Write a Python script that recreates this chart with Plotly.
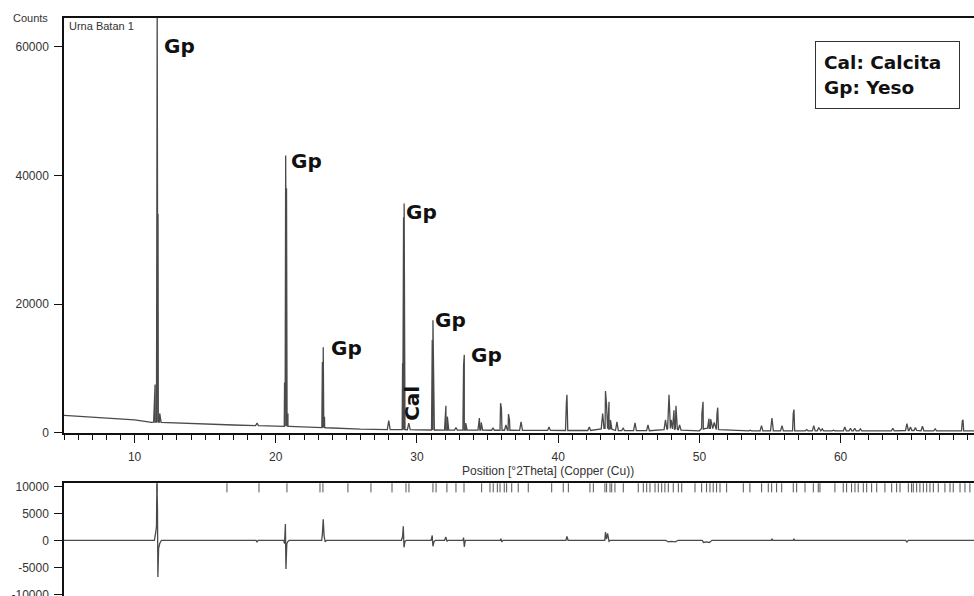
import plotly.graph_objects as go

# ---------------------------------------------------------------------------
# Data (2theta in degrees, intensity in counts)
# ---------------------------------------------------------------------------

# background line (2theta, counts)
bg_pos = [5.0, 8.0, 10.0, 11.2, 14.0, 17.0, 20.0, 23.0, 26.0, 30.0, 40.0, 50.0, 69.5]
bg_counts = [2700, 2350, 2000, 1600, 1400, 1200, 1000, 750, 550, 450, 350, 300, 300]

# peaks: position, apex counts, counts at the foot of the peak
peak_pos = [
    11.45, 11.55, 11.60, 11.66, 11.78, 18.67,
    20.62, 20.70, 20.76, 20.86, 23.30, 23.36, 23.45, 28.00,
    28.98, 29.05, 29.09, 29.42, 31.08, 31.13, 31.22, 32.05, 32.15, 32.76,
    33.30, 33.35, 33.45, 34.42, 34.55, 35.38, 35.92, 35.98, 36.30, 36.48,
    36.55, 37.37, 39.35, 40.58, 40.62, 42.20, 43.15, 43.35, 43.42, 43.60,
    43.70, 44.16, 44.60, 45.44, 46.36, 47.60, 47.85, 48.00, 48.20, 48.34,
    48.60, 50.18, 50.26, 50.68, 50.80, 51.05, 51.25, 51.30, 53.60, 54.40,
    55.14, 55.85, 56.65, 56.70, 57.60, 58.10, 58.45, 58.70, 59.50, 60.30,
    60.70, 61.00, 61.40, 62.10, 62.60, 63.70, 64.70, 64.95, 65.30, 65.80,
    66.70, 67.10, 67.50, 68.62, 68.67,
]
peak_counts = [
    7500, 50400, 66000, 34000, 3000, 1500,
    7800, 43100, 38000, 3000, 11000, 13300, 2500, 1900,
    10800, 33500, 35650, 1500, 14400, 17500, 3500, 4200, 2500, 800,
    10500, 12100, 1500, 2300, 1600, 700, 4600, 3800, 1200, 2900,
    2000, 1700, 900, 4600, 5900, 900, 3000, 6500, 4500, 4800,
    2000, 1700, 700, 1550, 1200, 2000, 5900, 2000, 3500, 4200,
    1200, 3000, 4800, 2200, 2100, 1600, 3000, 3900, 400, 1100,
    2300, 1100, 3000, 3600, 500, 1100, 800, 600, 400, 900,
    700, 700, 600, 400, 400, 700, 1400, 900, 800, 1000,
    600, 400, 400, 1800, 2000,
]
peak_base = [
    1650, 1650, 1650, 1650, 1600, 1100,
    1000, 1000, 1000, 1000, 800, 800, 780, 500,
    480, 480, 480, 470, 430, 430, 430, 420, 420, 410,
    400, 400, 400, 400, 400, 390, 390, 390, 390, 385,
    385, 380, 360, 350, 350, 350, 600, 700, 700, 650,
    550, 350, 340, 330, 320, 500, 650, 650, 600, 550,
    400, 500, 650, 700, 700, 650, 550, 500, 300, 300,
    300, 300, 300, 300, 300, 300, 300, 300, 300, 300,
    300, 300, 300, 300, 300, 300, 350, 350, 350, 300,
    300, 300, 300, 300, 300,
]

# difference plot (observed - calculated)
diff_pos = [
    5.0, 11.40, 11.50, 11.55, 11.58, 11.62, 11.65, 11.70, 11.78, 11.90,
    18.60, 18.67, 18.75, 20.55, 20.62, 20.68, 20.72, 20.78, 20.86, 20.95,
    23.25, 23.30, 23.36, 23.42, 23.50, 23.60, 28.90, 28.98, 29.03, 29.08,
    29.15, 29.25, 31.00, 31.08, 31.13, 31.20, 31.30, 31.95, 32.05, 32.12,
    32.20, 33.25, 33.30, 33.35, 33.42, 35.90, 35.95, 36.00, 36.10, 40.55,
    40.62, 40.70, 43.30, 43.35, 43.42, 43.50, 43.60, 43.70, 47.60, 47.80,
    48.00, 48.30, 48.50, 50.20, 50.30, 50.50, 50.70, 50.90, 55.10, 55.15,
    55.20, 56.65, 56.70, 56.75, 64.60, 64.70, 64.80, 69.50,
]
diff_counts = [
    0, 0, 1500, 2600, 11000, 5800, -6800, -1500, -600, 0,
    0, -300, 0, 0, -600, 3000, -5300, -600, -200, 0,
    0, 1200, 3900, 800, -300, 0, 0, 700, 2600, -1300,
    -200, 0, 0, 900, -1100, -300, 0, 0, 600, -200,
    0, 0, 500, -1200, 0, 0, 300, -300, 0, 0,
    700, 0, 0, 1500, 200, 1300, -200, 0, 0, -300,
    -200, -300, 0, 0, -400, -300, -400, 0, 0, 300,
    0, 0, 300, 0, 0, -300, 0, 0,
]

# reference pattern line positions (2theta)
ref_lines = [
    11.60, 16.54, 18.81, 20.79, 23.13, 23.34, 25.11, 26.74, 28.23, 29.22,
    29.43, 31.13, 31.35, 32.12, 32.76, 33.33, 34.58, 35.17, 35.40, 35.69,
    35.88, 36.18, 36.35, 36.71, 37.17, 37.88, 39.54, 40.36, 40.72, 42.25,
    42.49, 43.31, 43.43, 43.67, 43.79, 44.02, 44.61, 45.67, 46.03, 46.27,
    46.50, 46.86, 47.09, 47.33, 47.56, 47.80, 48.15, 48.51, 48.75, 49.69,
    50.16, 50.51, 50.75, 50.98, 51.22, 51.46, 51.93, 53.11, 53.58, 54.41,
    54.88, 55.12, 55.47, 55.83, 56.65, 56.89, 57.48, 58.07, 58.42, 58.54,
    59.60, 60.19, 60.43, 60.78, 61.02, 61.25, 61.61, 61.85, 62.20, 62.56,
    63.14, 63.62, 63.97, 64.21, 64.80, 65.03, 65.15, 65.39, 65.62, 65.86,
    66.10, 66.33, 66.57, 66.92, 67.39, 67.75, 67.98, 68.46, 68.81, 69.16,
]

# tick labels
top_ticks = [0, 20000, 40000, 60000]
bottom_ticks = [-10000, -5000, 0, 5000, 10000]

# ---------------------------------------------------------------------------
# Assemble the measured profile: background vertices + peak triangles
# ---------------------------------------------------------------------------
FOOT = 0.1  # half width of a peak foot, degrees
vertices = list(zip(bg_pos, bg_counts))
for p, c, b in zip(peak_pos, peak_counts, peak_base):
    vertices += [(p - FOOT, b), (p, c), (p + FOOT, b)]
vertices.sort(key=lambda v: v[0])
prof_x = [v[0] for v in vertices]
prof_y = [v[1] for v in vertices]

LINE = "#4a4a4a"
AXIS = "#111111"
TICKFONT = dict(family="Liberation Sans, Arial", size=12, color="#333333")

fig = go.Figure()

fig.add_trace(go.Scatter(
    x=prof_x, y=prof_y, mode="lines",
    line=dict(color=LINE, width=1.3),
    xaxis="x", yaxis="y", showlegend=False, hoverinfo="skip",
))

fig.add_trace(go.Scatter(
    x=diff_pos, y=diff_counts, mode="lines",
    line=dict(color=LINE, width=1.3),
    xaxis="x2", yaxis="y2", showlegend=False, hoverinfo="skip",
))

# reference pattern sticks hanging from the top of the lower panel
for p in ref_lines:
    fig.add_shape(
        type="line", xref="x2", yref="y2 domain",
        x0=p, x1=p, y0=1, y1=0.92,
        line=dict(color="#555555", width=1),
    )

# ── Layout ──────────────────────────────────────────────────────────────────
XRANGE = [5, 69.45]
fig.update_layout(
    width=974, height=604,
    margin=dict(l=64, r=0, t=18, b=0),
    plot_bgcolor="white", paper_bgcolor="white",
    font=dict(family="Liberation Sans, Arial", color="#333333"),
    xaxis=dict(
        domain=[0, 1], anchor="y", range=XRANGE,
        tickmode="linear", tick0=0, dtick=10,
        ticks="outside", ticklen=8, tickcolor=AXIS, tickwidth=1,
        ticklabelstandoff=4,
        minor=dict(dtick=1, ticks="outside", ticklen=5, tickcolor=AXIS),
        showline=True, linecolor=AXIS, linewidth=1.5, mirror=True,
        showgrid=False, zeroline=False, tickfont=TICKFONT,
    ),
    yaxis=dict(
        domain=[0.2828, 1], anchor="x", range=[-80, 64470],
        tickvals=top_ticks, ticktext=[str(v) for v in top_ticks],
        ticks="outside", ticklen=8, tickcolor=AXIS, ticklabelstandoff=3,
        showline=True, linecolor=AXIS, linewidth=1.5,
        showgrid=False, zeroline=False, tickfont=TICKFONT,
    ),
    xaxis2=dict(
        domain=[0, 1], anchor="y2", range=XRANGE, side="top",
        showline=True, linecolor=AXIS, linewidth=1.5,
        showticklabels=False, ticks="", showgrid=False, zeroline=False,
    ),
    yaxis2=dict(
        domain=[0, 0.1964], anchor="x2", range=[-10500, 10560],
        tickvals=bottom_ticks, ticktext=[str(v) for v in bottom_ticks],
        ticks="outside", ticklen=8, tickcolor=AXIS, ticklabelstandoff=3,
        showline=True, linecolor=AXIS, linewidth=1.5,
        showgrid=False, zeroline=False, tickfont=TICKFONT,
    ),
)

# ── Text ────────────────────────────────────────────────────────────────────
fig.add_annotation(text="Counts", xref="paper", yref="paper",
                   x=-0.037, y=1.0, xanchor="center", yanchor="middle",
                   showarrow=False, font=dict(size=11, color="#333333"))
fig.add_annotation(text="Urna Batan 1", xref="paper", yref="paper",
                   x=0.003, y=0.9858, xanchor="left", yanchor="middle",
                   showarrow=False, font=dict(size=11, color="#333333"))
fig.add_annotation(text="Position [°2Theta] (Copper (Cu))",
                   xref="paper", yref="paper", x=0.532, y=0.218,
                   xanchor="center", yanchor="middle",
                   showarrow=False, font=dict(size=12, color="#333333"))

BOLD = dict(family="DejaVu Sans", size=20, color="#111111")
labels = [
    ("Gp", 12.01, 60140),
    ("Gp", 21.0, 42300),
    ("Gp", 23.84, 13200),
    ("Gp", 29.15, 34250),
    ("Gp", 31.2, 17500),
    ("Gp", 33.75, 12100),
]
for text, x, y in labels:
    fig.add_annotation(text=f"<b>{text}</b>", x=x, y=y, xref="x", yref="y",
                       xanchor="left", yanchor="middle", showarrow=False,
                       font=BOLD, borderpad=0)
fig.add_annotation(text="<b>Cal</b>", x=29.65, y=4500, xref="x", yref="y",
                   xanchor="center", yanchor="middle", textangle=-90,
                   showarrow=False, font=BOLD, borderpad=0)

# key box
fig.add_annotation(
    text="<b>Cal: Calcita</b><br><b>Gp: Yeso</b>",
    xref="paper", yref="paper", x=0.825, y=0.960,
    xanchor="left", yanchor="top", align="left", valign="middle",
    width=127, height=50, borderpad=8, borderwidth=1, bordercolor="#333333",
    bgcolor="white", showarrow=False,
    font=dict(family="DejaVu Sans", size=18.5, color="#111111"),
)

# the page body has a default 8px margin; drop it so the figure sits at 0,0
fig.write_html(
    "out.html",
    config={"displayModeBar": False},
    post_script="document.body.style.margin='0';",
)
